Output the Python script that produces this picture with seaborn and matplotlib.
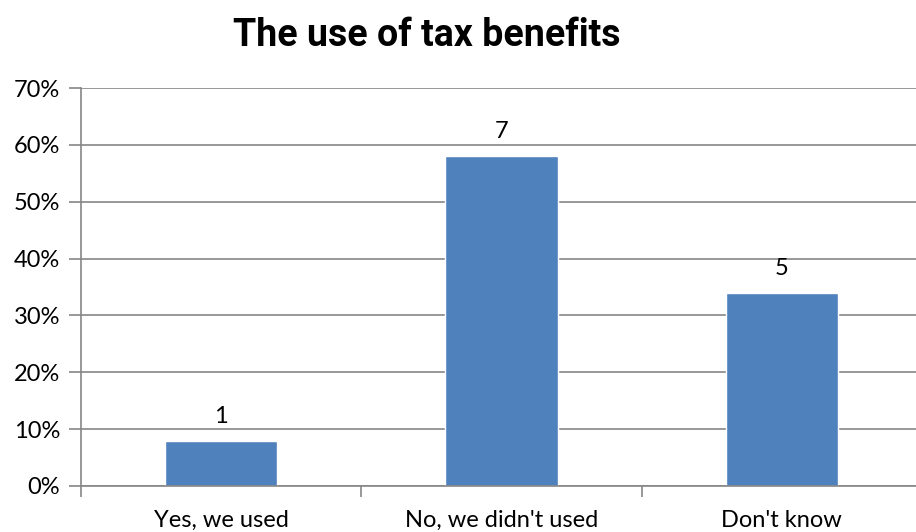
import matplotlib
matplotlib.use("Agg")
import matplotlib.pyplot as plt
import seaborn as sns
import pandas as pd
from matplotlib.ticker import PercentFormatter

categories = ["Yes, we used", "No, we didn't used", "Don't know"]
shares = [0.08, 0.58, 0.34]
counts = ["1", "7", "5"]
yticks = [0, 0.1, 0.2, 0.3, 0.4, 0.5, 0.6, 0.7]

sns.set_theme(style="white")
plt.rcParams['font.family'] = ['Lato', 'DejaVu Sans']
plt.rcParams['text.color'] = 'black'
plt.rcParams['xtick.color'] = 'black'
plt.rcParams['ytick.color'] = 'black'

df = pd.DataFrame({"cat": categories, "share": shares})

fig = plt.figure(figsize=(9.16, 5.32), dpi=100)
ax = fig.add_axes([81/916, 46/532, 841/916, 398/532])
sns.barplot(data=df, x="cat", y="share", color="#4f81bd", saturation=1, width=0.4, ax=ax)

ax.set_xlim(-0.5, 2.5)
ax.set_ylim(0, 0.7)
ax.set_yticks(yticks)
ax.yaxis.set_major_formatter(PercentFormatter(1.0, decimals=0))
ax.yaxis.grid(True, color="#868686", linewidth=1.2)
ax.set_axisbelow(True)
ax.set_xlabel("")
ax.set_ylabel("")

for s in ["top", "right"]:
    ax.spines[s].set_visible(False)
for s in ["left", "bottom"]:
    ax.spines[s].set_color("#868686")
    ax.spines[s].set_linewidth(1.2)

ax.tick_params(axis="y", which="both", left=True, length=9, width=1.2, color="#868686",
               labelcolor="black", labelsize=17, pad=6)
ax.set_xticks([0, 1, 2])
ax.set_xticklabels(categories)
ax.tick_params(axis="x", length=0, labelsize=17, labelcolor="black", pad=17)
ax.set_xticks([-0.5, 0.5, 1.5], minor=True)
ax.tick_params(axis="x", which="minor", bottom=True, length=8, width=1.2, color="#868686")

for i, (v, c) in enumerate(zip(shares, counts)):
    ax.annotate(c, (i, v), xytext=(0, 10), textcoords="offset points",
                ha="center", va="bottom", fontsize=17, color="black")

fig.text(427/916, 1 - 36/532, "The use of tax benefits", ha="center", va="center",
         fontsize=27, fontweight="bold", color="black",
         family=["Roboto", "DejaVu Sans"])

fig.savefig("out.png", dpi=100)
